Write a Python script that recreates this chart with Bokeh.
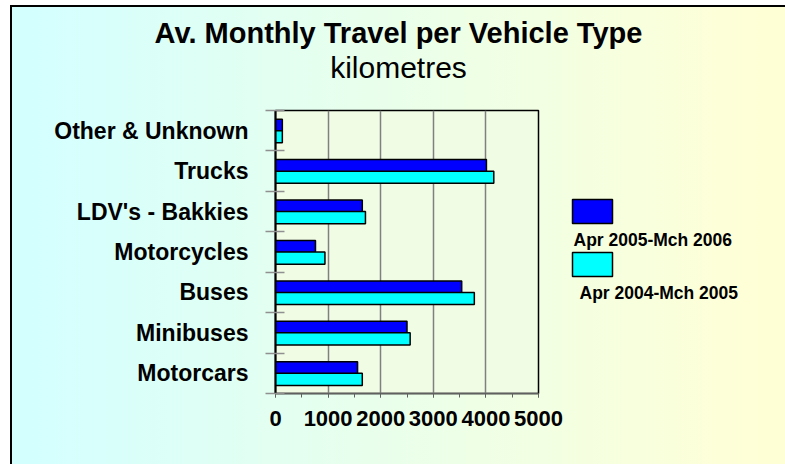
from bokeh.plotting import figure
from bokeh.layouts import row, column
from bokeh.models import (Range1d, FixedTicker, SingleIntervalTicker, Div)
from bokeh.embed import file_html
from bokeh.resources import INLINE

# ---------------- data ----------------
categories = ["Motorcars", "Minibuses", "Buses", "Motorcycles",
              "LDV's - Bakkies", "Trucks", "Other & Unknown"]
travel_2005_06 = [1560, 2500, 3540, 760, 1650, 4010, 130]
travel_2004_05 = [1650, 2560, 3780, 940, 1710, 4150, 130]
series_names = ["Apr 2005-Mch 2006", "Apr 2004-Mch 2005"]
series_colors = ["#0000FF", "#00FFFF"]
x_min, x_max, x_step = 0, 5000, 1000
title_text = "Av. Monthly Travel per Vehicle Type"
subtitle_text = "kilometres"

FONT = "Liberation Sans"
TOTAL_W = 773
HEAD_H = 90
H = 367
WP, WQ = 555, 218
B_LEFT, B_TOP, FRAME_W, FRAME_H = 263, 13, 263, 283
B_BOTTOM = H - B_TOP - FRAME_H
n = len(categories)
idx = list(range(n))

# ---------------- heading ----------------
head = Div(
    text=(f'<div style="font-size:29px;font-weight:bold;line-height:34px;padding-top:9px">{title_text}</div>'
          f'<div style="font-size:30px;font-weight:normal;line-height:34px;margin-top:1px">{subtitle_text}</div>'),
    width=TOTAL_W, height=HEAD_H,
    styles={"text-align": "center", "font-family": f"'{FONT}', Arial, sans-serif",
            "color": "black", "margin": "0", "padding": "0"})

# ---------------- main chart ----------------
p = figure(width=WP, height=H, output_backend="svg", toolbar_location=None,
           x_range=Range1d(x_min, x_max), y_range=Range1d(-0.5, n - 0.5),
           min_border_left=B_LEFT, min_border_right=WP - B_LEFT - FRAME_W,
           min_border_top=B_TOP, min_border_bottom=B_BOTTOM, title=None)
p.border_fill_color = None
p.background_fill_color = "#F0FCE4"
p.outline_line_color = "black"
p.outline_line_width = 1.5

p.hbar(y=[i + 0.135 for i in idx], left=0, right=travel_2005_06, height=0.3,
       fill_color=series_colors[0], line_color="black", line_width=1.5)
p.hbar(y=[i - 0.15 for i in idx], left=0, right=travel_2004_05, height=0.3,
       fill_color=series_colors[1], line_color="black", line_width=1.5)

xa = p.xaxis[0]
xa.ticker = SingleIntervalTicker(interval=x_step, num_minor_ticks=2)
xa.axis_line_color = "#606060"
xa.axis_line_width = 1.5
xa.major_tick_line_color = "#606060"
xa.minor_tick_line_color = "#606060"
xa.major_tick_in = 0
xa.major_tick_out = 4
xa.minor_tick_in = 0
xa.minor_tick_out = 4
xa.major_label_standoff = 13
xa.major_label_text_font = FONT
xa.major_label_text_font_size = "22px"
xa.major_label_text_font_style = "bold"
xa.major_label_text_color = "black"

ya = p.yaxis[0]
ya.ticker = FixedTicker(ticks=idx, minor_ticks=[i - 0.5 for i in range(n + 1)])
ya.major_label_overrides = {i: c for i, c in zip(idx, categories)}
ya.axis_line_color = "black"
ya.axis_line_width = 2
ya.major_tick_line_color = None
ya.major_tick_in = 0
ya.major_tick_out = 0
ya.minor_tick_line_color = "#909090"
ya.minor_tick_line_width = 1.5
ya.minor_tick_in = 9
ya.minor_tick_out = 10
ya.major_label_standoff = 17
ya.major_label_text_font = FONT
ya.major_label_text_font_size = "23px"
ya.major_label_text_font_style = "bold"
ya.major_label_text_color = "black"

p.xgrid.grid_line_color = "#808080"
p.xgrid.grid_line_width = 1.5
p.ygrid.grid_line_color = None

# ---------------- legend panel (pixel coordinates of the row) ----------------
q = figure(width=WQ, height=H, output_backend="svg", toolbar_location=None,
           x_range=Range1d(0, WQ), y_range=Range1d(B_TOP + FRAME_H, B_TOP),
           x_axis_type=None, y_axis_type=None, title=None,
           min_border_left=0, min_border_right=0,
           min_border_top=B_TOP, min_border_bottom=B_BOTTOM)
q.border_fill_color = None
q.background_fill_color = None
q.outline_line_color = None
q.xgrid.grid_line_color = None
q.ygrid.grid_line_color = None

box_left, box_w, box_h = 5, 40, 24
box_tops = [102, 155]
text_x = [6, 12]
text_y = [142, 195]
q.quad(left=[box_left] * 2, right=[box_left + box_w] * 2,
       top=box_tops, bottom=[t + box_h for t in box_tops],
       fill_color=series_colors, line_color="black", line_width=1.5)
q.text(x=text_x, y=text_y, text=series_names, text_font_size="17.5px",
       text_font_style="bold", text_color="black", text_baseline="alphabetic",
       text_font={"value": FONT})

layout = column(head, row(p, q), styles={
    "margin-left": "10px",
    "margin-top": "5px",
    "border-top": "2px solid black",
    "border-left": "2px solid black",
    "background": "linear-gradient(to right, #D4FFFF 3%, #EAFFEA 50%, #FFFFD6 97%)",
})

open("out.html", "w").write(file_html(layout, INLINE))
